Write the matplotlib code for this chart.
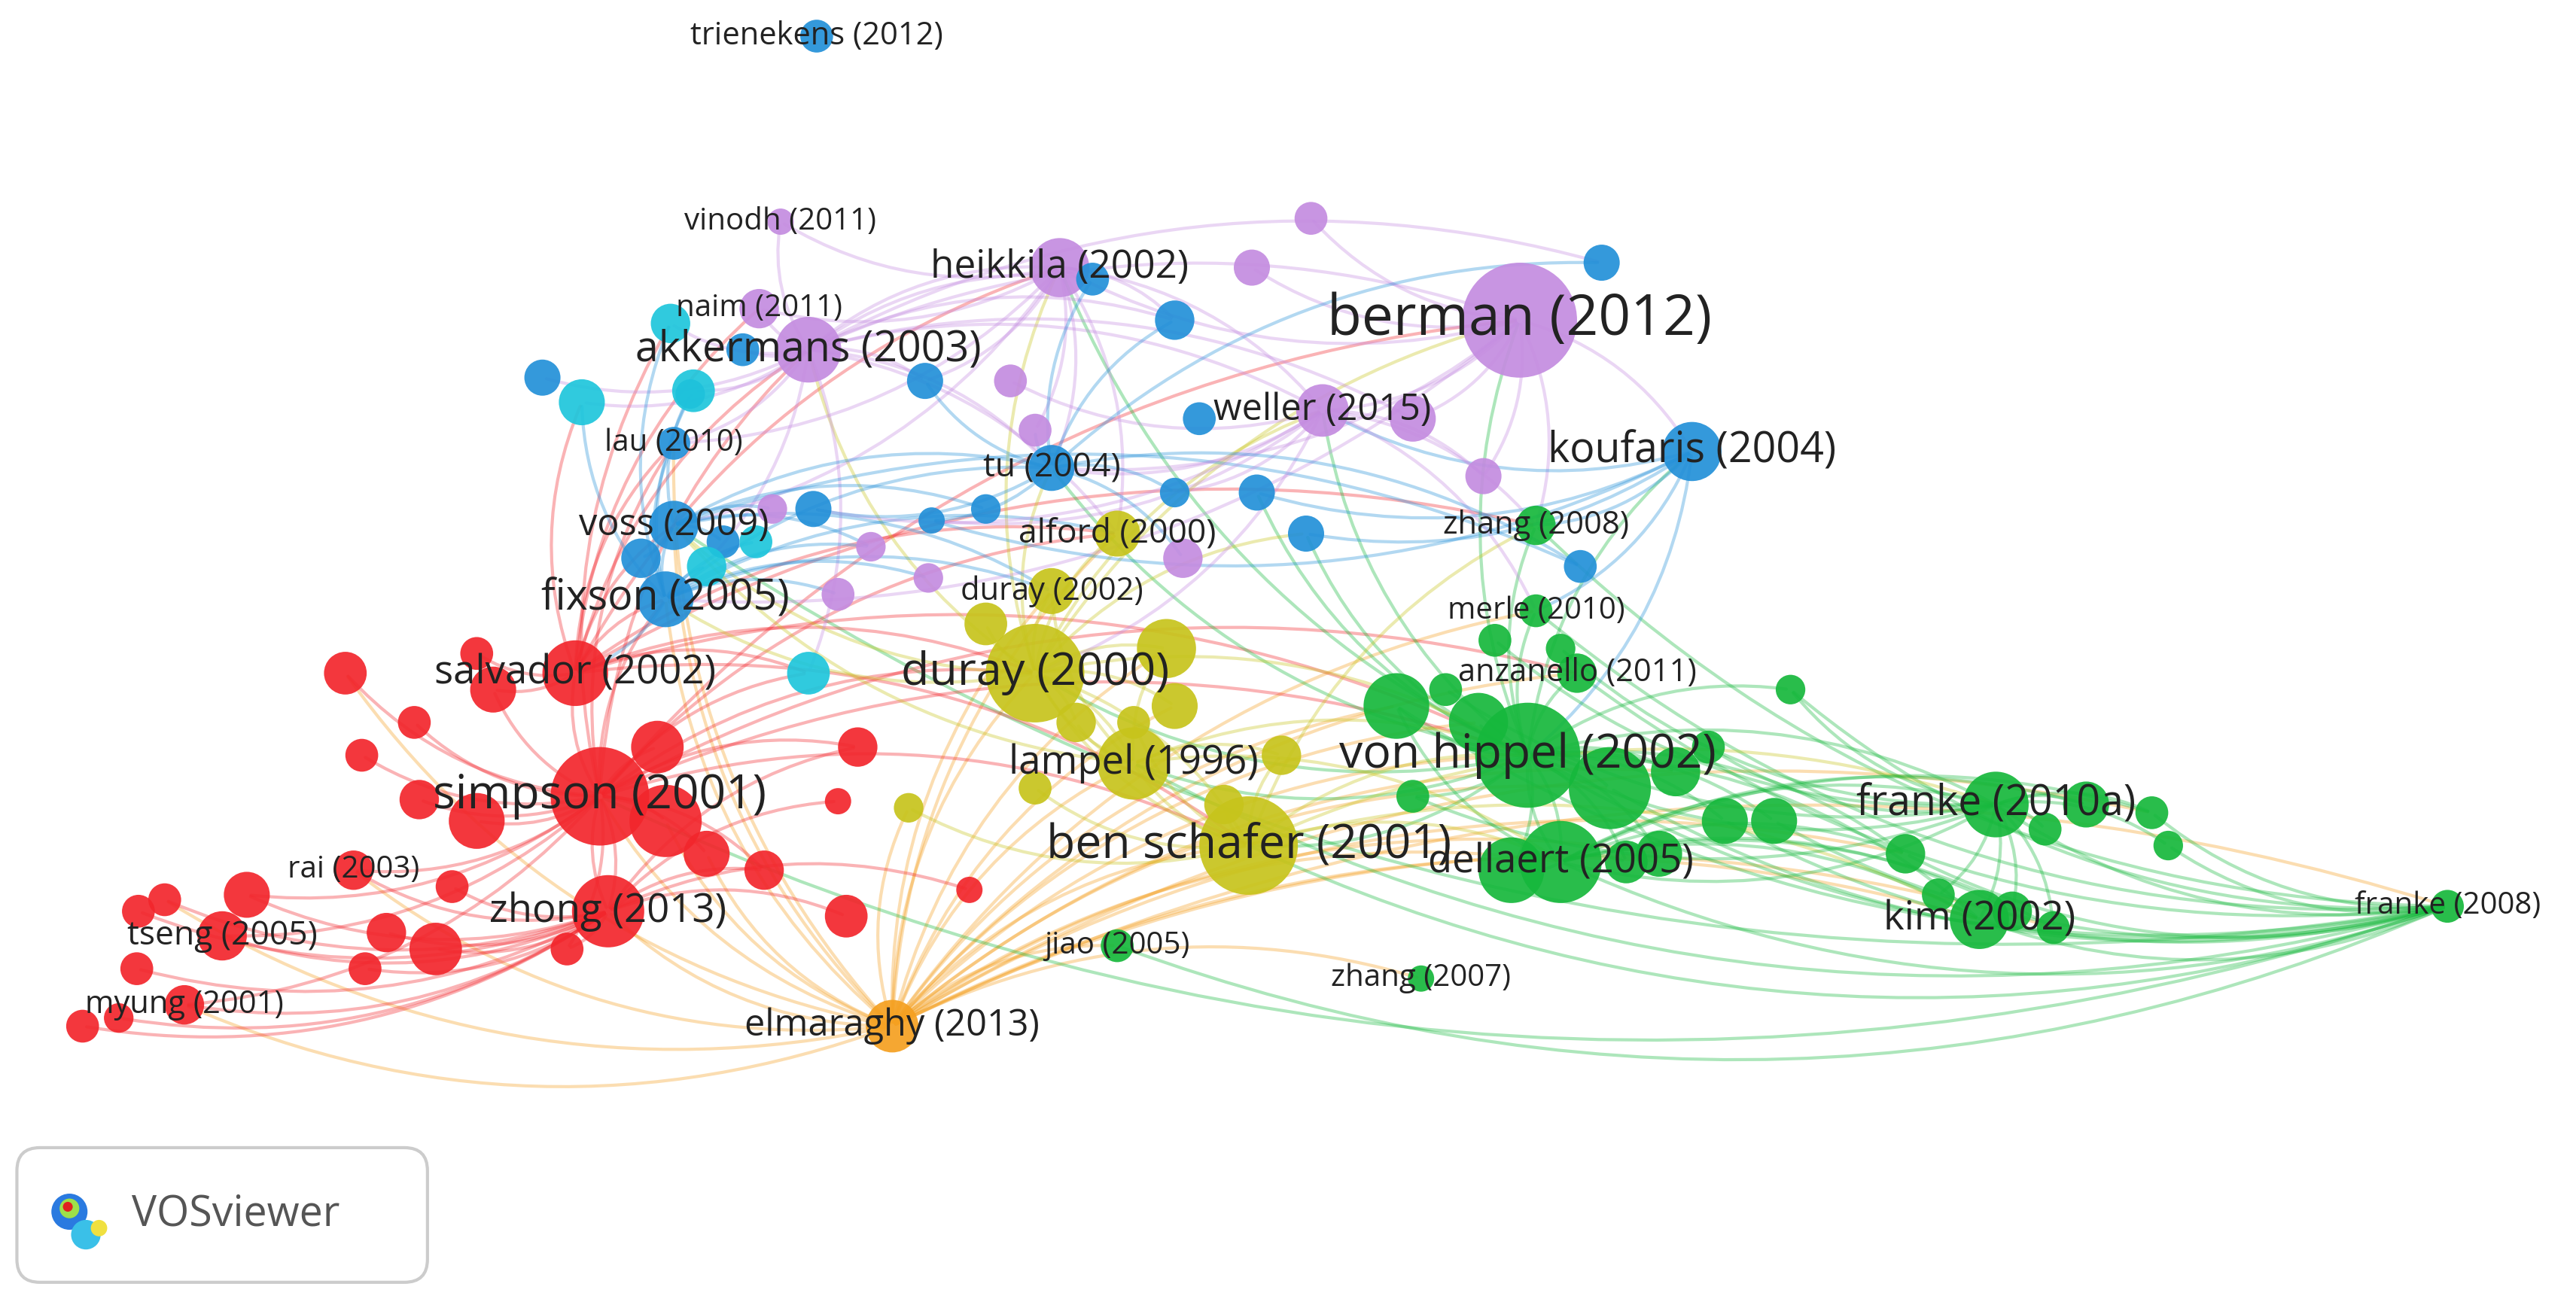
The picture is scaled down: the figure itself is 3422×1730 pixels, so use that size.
import matplotlib.pyplot as plt
from matplotlib.patches import Circle, FancyArrowPatch, FancyBboxPatch

colors = {"r": "#f2262c", "g": "#16b83c", "b": "#2390d8", "p": "#c48ce0",
          "y": "#c7c41c", "c": "#1ec6dc", "o": "#f5a020"}

# labeled nodes (0..33), then unlabeled nodes per cluster
node_x = [497, 475, 645, 462, 925, 492, 805, 1030, 410, 640, 410, 680, 935, 405, 640, 935, 350,
          630, 960, 930, 690, 365, 1215, 760, 950, 215, 370, 1205, 135, 1490, 680, 865, 543, 112,
          798, 762, 860, 903, 615, 630, 720, 510, 565, 530, 470,
          975, 715, 665, 563, 452, 330, 730, 765, 795, 715, 495, 567, 962, 440, 390, 420, 600,
          408, 354, 422, 492, 430, 460,
          210, 252, 220, 255, 290, 400, 405, 430, 465, 522, 510, 515, 590, 265, 235, 222, 150, 100,
          84, 83, 50, 72, 275, 345, 300, 290,
          710, 715, 600, 655, 745, 553, 630, 780, 690,
          850, 900, 980, 1020, 1050, 1080, 1010, 990, 920, 860, 1090, 1160, 1270, 1310, 1320, 1225,
          1250, 1180, 1040, 910, 950, 880, 1245]
node_y = [22, 135, 163, 188, 195, 213, 250, 275, 270, 285, 320, 325, 320, 365, 360, 372, 410,
          410, 410, 460, 465, 485, 490, 515, 525, 530, 555, 560, 570, 552, 576, 596, 625, 612,
          133, 163, 255, 290, 232, 262, 340, 362, 352, 333, 310,
          160, 195, 170, 232, 213, 230, 255, 300, 325, 300, 310, 317, 345, 330, 340, 240, 310,
          197, 245, 238, 410, 345, 330,
          410, 440, 460, 487, 500, 455, 500, 520, 530, 455, 488, 558, 542, 578, 568, 590, 545, 548,
          555, 590, 625, 620, 540, 578, 420, 398,
          395, 430, 380, 440, 490, 492, 480, 460, 440,
          430, 440, 480, 470, 500, 500, 520, 525, 530, 485, 420, 520, 490, 495, 515, 555,
          565, 545, 455, 390, 395, 420, 505]
node_r = [10, 8, 18, 12, 35, 20, 16, 18, 10, 14, 15, 14, 12, 17, 14, 10, 20,
          30, 12, 32, 22, 30, 20, 30, 25, 12, 22, 18, 15, 10, 10, 8, 16, 12,
          10, 11, 14, 11, 10, 10, 12, 10, 9, 9, 9,
          11, 12, 10, 11, 10, 11, 10, 11, 11, 9, 11, 8, 10, 10, 12, 9, 9,
          12, 14, 13, 13, 12, 10,
          13, 10, 10, 12, 17, 16, 22, 14, 12, 12, 8, 13, 8, 16, 12, 10, 14, 10,
          10, 10, 10, 9, 10, 10, 14, 10,
          18, 14, 13, 12, 12, 9, 10, 12, 10,
          20, 18, 25, 15, 14, 14, 14, 13, 20, 10, 9, 12, 14, 10, 9, 12,
          10, 10, 10, 10, 9, 10, 10]
node_c = list("bppppppbbbbygbygrygg" "yrgygrrgrgggor") + list("p" * 11) + list("b" * 17) \
    + list("c" * 6) + list("r" * 26) + list("y" * 9) + list("g" * 23)
labels = ["trienekens (2012)", "vinodh (2011)", "heikkila (2002)", "naim (2011)", "berman (2012)",
          "akkermans (2003)", "weller (2015)", "koufaris (2004)", "lau (2010)", "tu (2004)",
          "voss (2009)", "alford (2000)", "zhang (2008)", "fixson (2005)", "duray (2002)",
          "merle (2010)", "salvador (2002)", "duray (2000)", "anzanello (2011)",
          "von hippel (2002)", "lampel (1996)", "simpson (2001)", "franke (2010a)",
          "ben schafer (2001)", "dellaert (2005)", "rai (2003)", "zhong (2013)", "kim (2002)",
          "tseng (2005)", "franke (2008)", "jiao (2005)", "zhang (2007)", "elmaraghy (2013)",
          "myung (2001)"]
label_size = [15, 14.5, 18.5, 14.5, 27, 20, 17.5, 20, 14.5, 16, 17.5, 16, 15, 20, 15, 14.5, 19,
              22, 15, 22.5, 19, 22.5, 20, 22.5, 19, 14.5, 19, 19, 16, 14.5, 14.5, 14.5, 17.5, 15]

edges = {
    32: [17, 19, 21, 23, 24, 20, 27, 31, 29, 30, 10, 13, 14, 15, 103, 104, 105, 106, 109, 114, 116,
         119, 68, 74, 75, 85, 18, 94, 95, 99, 8, 11, 33, 25, 26],
    29: [19, 22, 24, 20, 27, 18, 103, 105, 107, 108, 113, 116, 114, 117, 10, 12, 15, 21, 23, 30],
    21: [16, 18, 13, 11, 8, 25, 26, 28, 33, 68, 69, 70, 71, 72, 73, 74, 75, 76, 77, 84, 91, 92, 17,
         19, 23, 62, 65, 4, 5],
    16: [13, 11, 8, 5, 3, 17, 23, 19, 92, 93, 63, 65, 2, 12, 10],
    19: [22, 24, 20, 27, 12, 15, 18, 103, 104, 105, 106, 107, 108, 109, 110, 111, 112, 113, 114, 4,
         6, 7, 17, 23, 2, 9, 52, 53],
    17: [14, 10, 20, 23, 19, 94, 95, 96, 97, 2, 5, 9, 13, 11, 6, 4, 53],
    5: [1, 2, 3, 8, 11, 13, 9, 45, 46, 47, 48, 49, 50, 62, 63, 64, 65, 4, 6, 36],
    4: [2, 6, 34, 35, 36, 37, 9, 12, 7, 13],
    2: [1, 3, 47, 46, 48, 9, 11, 6, 8, 39, 10],
    7: [12, 15, 52, 53, 6, 56, 19],
    13: [8, 11, 10, 66, 67, 62, 63, 64, 16, 14, 9, 41, 42, 43],
    10: [9, 57, 58, 59, 60, 61, 43, 44, 14],
    23: [19, 24, 20, 17, 98, 99, 100, 101, 102, 22, 27, 12],
    24: [22, 27, 103, 110, 111, 115, 116, 118, 119, 114, 19],
    22: [27, 115, 116, 117, 118, 119, 120, 121, 122, 123, 124, 125, 19, 24, 112, 113],
    26: [25, 28, 33, 76, 77, 78, 79, 80, 81, 82, 83, 84, 85, 86, 87, 88, 89, 90, 91, 21],
    20: [17, 14, 10, 94, 97, 101, 19, 24],
    6: [9, 12, 15, 54, 55, 56, 37, 38, 17],
    9: [45, 46, 47, 48, 54, 55, 56, 57, 39, 40],
}

n = min(len(node_x), len(node_y), len(node_r), len(node_c))

fig = plt.figure(figsize=(17.11, 8.65), dpi=200)
ax = fig.add_axes([0, 0, 1, 1])
ax.set_xlim(0, 1568)
ax.set_ylim(793, 0)
ax.set_aspect("equal")
ax.axis("off")

for src, targets in edges.items():
    col = colors[node_c[src]]
    for t in targets:
        if t >= n:
            continue
        p = FancyArrowPatch((node_x[src], node_y[src]), (node_x[t], node_y[t]),
                            connectionstyle="arc3,rad=-0.2", arrowstyle="-",
                            color=col, alpha=0.35, lw=1.5, zorder=1)
        ax.add_patch(p)

for i in range(n):
    ax.add_patch(Circle((node_x[i], node_y[i]), node_r[i], color=colors[node_c[i]],
                        alpha=0.92, lw=0, zorder=2))

for i, lab in enumerate(labels):
    ax.text(node_x[i], node_y[i], lab, ha="center", va="center", fontsize=label_size[i],
            family="Open Sans", color="#222222", zorder=3)

# VOSviewer logo box
ax.add_patch(FancyBboxPatch((10, 699), 250, 82, boxstyle="round,pad=0,rounding_size=14",
                            fc="white", ec="#cccccc", lw=1.5, zorder=4))
for (cx, cy, rr, cc) in [(42, 738, 11, "#2a7ae0"), (52, 752, 9, "#3ac0e8"),
                         (42, 736, 6, "#9ee04a"), (41, 735, 3, "#e02020"), (60, 748, 5, "#f0e040")]:
    ax.add_patch(Circle((cx, cy), rr, color=cc, lw=0, zorder=5))
ax.text(80, 740, "VOSviewer", ha="left", va="center", fontsize=20, family="Open Sans",
        color="#555555", zorder=5)

fig.savefig("out.png", dpi=200)
